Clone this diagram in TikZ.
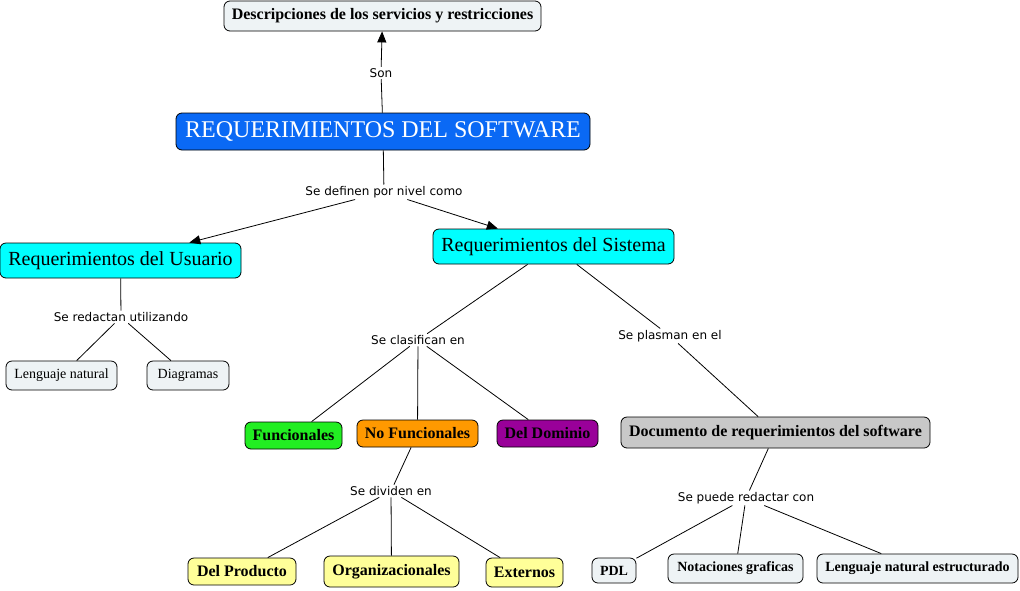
\documentclass[tikz,border=0pt]{standalone}
\usepackage{fontspec}
\setmainfont{Liberation Serif}
\newfontfamily\lblfont{DejaVu Sans}
\usetikzlibrary{arrows.meta}
\definecolor{cLight}{RGB}{238,243,245}
\definecolor{cBlue}{RGB}{10,105,245}
\definecolor{cCyan}{RGB}{0,255,255}
\definecolor{cGreen}{RGB}{34,238,34}
\definecolor{cOrange}{RGB}{255,153,0}
\definecolor{cPurple}{RGB}{153,0,153}
\definecolor{cGrey}{RGB}{200,200,200}
\definecolor{cYellow}{RGB}{255,255,153}
\tikzset{
  concept/.style={draw=black, rounded corners=6pt, line width=0.8pt, inner sep=0pt, align=center},
  lbl/.style={inner sep=1.5pt, font=\lblfont\fontsize{12}{14}\selectfont},
  conn/.style={line width=0.8pt},
  arr/.style={line width=0.8pt, -{Triangle[length=11pt,width=9pt]}},
  bsixteen/.style={font=\bfseries\fontsize{16}{18}\selectfont},
  bfourteen/.style={font=\bfseries\fontsize{14}{16}\selectfont},
}
\begin{document}
\begin{tikzpicture}[x=1pt,y=-1pt]
\path[use as bounding box, fill=white] (0,0) rectangle (1020,590);

% concepts
\node[concept, fill=cLight, bsixteen, minimum width=317pt, minimum height=30pt] (desc) at (382.5,16) {Descripciones de los servicios y restricciones};
\node[concept, fill=cBlue, text=white, font=\fontsize{24}{26}\selectfont, minimum width=414pt, minimum height=37pt] (req) at (383,131.5) {REQUERIMIENTOS DEL SOFTWARE};
\node[concept, fill=cCyan, font=\fontsize{20}{22}\selectfont, minimum width=241pt, minimum height=35pt] (usr) at (120.5,260.5) {Requerimientos del Usuario};
\node[concept, fill=cCyan, font=\fontsize{20}{22}\selectfont, minimum width=241pt, minimum height=35pt] (sis) at (553.5,246.5) {Requerimientos del Sistema};
\node[concept, fill=cLight, font=\fontsize{14}{16}\selectfont, minimum width=111pt, minimum height=29pt] (lnat) at (61.5,375.5) {Lenguaje natural};
\node[concept, fill=cLight, font=\fontsize{14}{16}\selectfont, minimum width=82pt, minimum height=29pt] (diag) at (188,375.5) {Diagramas};
\node[concept, fill=cGreen, bsixteen, minimum width=97pt, minimum height=27pt] (fun) at (293.5,435.5) {Funcionales};
\node[concept, fill=cOrange, bsixteen, minimum width=121pt, minimum height=27pt] (nofun) at (417.5,433.5) {No Funcionales};
\node[concept, fill=cPurple, bsixteen, minimum width=101pt, minimum height=27pt] (dom) at (547.5,433.5) {Del Dominio};
\node[concept, fill=cGrey, bsixteen, minimum width=309pt, minimum height=31pt] (doc) at (775.5,432.5) {Documento de requerimientos del software};
\node[concept, fill=cYellow, bsixteen, minimum width=108pt, minimum height=27pt] (prod) at (242,571.5) {Del Producto};
\node[concept, fill=cYellow, bsixteen, minimum width=135pt, minimum height=31pt] (org) at (391.5,571.5) {Organizacionales};
\node[concept, fill=cYellow, bsixteen, minimum width=77pt, minimum height=29pt] (ext) at (524.5,572.5) {Externos};
\node[concept, fill=cLight, bfourteen, minimum width=44pt, minimum height=25pt] (pdl) at (614,570.5) {PDL};
\node[concept, fill=cLight, bfourteen, minimum width=135pt, minimum height=29pt] (not) at (735.5,568.5) {Notaciones graficas};
\node[concept, fill=cLight, bfourteen, minimum width=201pt, minimum height=29pt] (lne) at (917.5,568.5) {Lenguaje natural estructurado};

% linking phrases
\node[lbl] (lson) at (381,73) {Son};
\node[lbl] (ldef) at (384,192) {Se definen por nivel como};
\node[lbl] (lred) at (121,317) {Se redactan utilizando};
\node[lbl] (lcla) at (418,340) {Se clasifican en};
\node[lbl] (lpla) at (670,336) {Se plasman en el};
\node[lbl] (ldiv) at (391,491) {Se dividen en};
\node[lbl] (lpue) at (746,498) {Se puede redactar con};

% connectors
\draw[conn] (req) -- (lson);
\draw[arr] (lson) -- (desc);
\draw[conn] (req) -- (ldef);
\draw[arr] (ldef) -- (usr);
\draw[arr] (ldef) -- (sis);
\draw[conn] (usr) -- (lred);
\draw[conn] (lred) -- (lnat);
\draw[conn] (lred) -- (diag);
\draw[conn] (sis) -- (lcla);
\draw[conn] (lcla) -- (fun);
\draw[conn] (lcla) -- (nofun);
\draw[conn] (lcla) -- (dom);
\draw[conn] (sis) -- (lpla);
\draw[conn] (lpla) -- (doc);
\draw[conn] (nofun) -- (ldiv);
\draw[conn] (ldiv) -- (prod);
\draw[conn] (ldiv) -- (org);
\draw[conn] (ldiv) -- (ext);
\draw[conn] (doc) -- (lpue);
\draw[conn] (lpue) -- (pdl);
\draw[conn] (lpue) -- (not);
\draw[conn] (lpue) -- (lne);
\end{tikzpicture}
\end{document}
